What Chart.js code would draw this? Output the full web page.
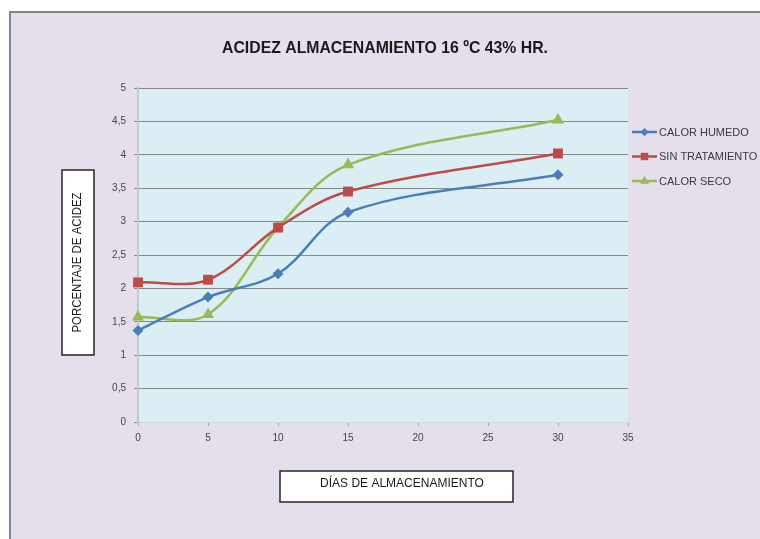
<!DOCTYPE html>
<html>
<head>
<meta charset="utf-8">
<title>Acidez almacenamiento 16 ºC 43% HR.</title>
<script src="https://cdn.jsdelivr.net/npm/chart.js@4/dist/chart.umd.min.js"></script>
<style>
  html, body { margin: 0; padding: 0; background: #ffffff; }
  #wrap { width: 760px; height: 539px; }
</style>
</head>
<body>
<div id="wrap"><canvas id="c" width="760" height="539"></canvas></div>
<script>
// Storage days and acidity percentage for each treatment
const days = [0, 5, 10, 15, 30];
const calorHumedo = [1.37, 1.87, 2.22, 3.14, 3.70];
const sinTratamiento = [2.09, 2.13, 2.91, 3.45, 4.02];
const calorSeco = [1.57, 1.61, 2.91, 3.85, 4.52];
const seriesNames = ['CALOR HUMEDO', 'SIN TRATAMIENTO', 'CALOR SECO'];
const xTicks = [0, 5, 10, 15, 20, 25, 30, 35];
const yTicks = [0, 0.5, 1, 1.5, 2, 2.5, 3, 3.5, 4, 4.5, 5];

const chartTitle = 'ACIDEZ ALMACENAMIENTO 16 ºC 43% HR.';
const yTitle = 'PORCENTAJE DE ACIDEZ';
const xTitle = 'DÍAS DE ALMACENAMIENTO';

const SANS = '"Liberation Sans", Arial, sans-serif';

function pts(values) {
  return days.map((d, i) => ({ x: d, y: values[i] }));
}

const styles = [
  { color: '#4A7EBB', pointStyle: 'rectRot', radius: 5.5 },
  { color: '#BE4B48', pointStyle: 'rect', radius: 7 },
  { color: '#98B954', pointStyle: 'triangle', radius: 7 }
];
const seriesValues = [calorHumedo, sinTratamiento, calorSeco];

const datasets = seriesValues.map((vals, i) => ({
  label: seriesNames[i],
  data: pts(vals),
  borderColor: styles[i].color,
  backgroundColor: styles[i].color,
  pointBackgroundColor: styles[i].color,
  pointBorderColor: styles[i].color,
  pointStyle: styles[i].pointStyle,
  pointRadius: styles[i].radius,
  pointBorderWidth: 0,
  borderWidth: 2.5,
  tension: 0.35,
  fill: false,
  clip: false
}));

function drawMarker(ctx, style, x, y, r, color) {
  ctx.save();
  ctx.fillStyle = color;
  ctx.beginPath();
  if (style === 'rect') {
    const s = r * Math.SQRT1_2;
    ctx.rect(x - s, y - s, 2 * s, 2 * s);
  } else if (style === 'rectRot') {
    ctx.moveTo(x, y - r); ctx.lineTo(x + r, y); ctx.lineTo(x, y + r); ctx.lineTo(x - r, y);
  } else {
    const w = r * Math.sqrt(3) / 2;
    ctx.moveTo(x, y - r); ctx.lineTo(x + w, y + r / 2); ctx.lineTo(x - w, y + r / 2);
  }
  ctx.closePath();
  ctx.fill();
  ctx.restore();
}

// draw text squeezed horizontally to a given width (condensed look)
function condensedText(ctx, text, cx, cy, width) {
  const w = ctx.measureText(text).width;
  const k = Math.min(1, width / w);
  ctx.save();
  ctx.translate(cx, cy);
  ctx.scale(k, 1);
  ctx.textAlign = 'center';
  ctx.fillText(text, 0, 0);
  ctx.restore();
}

const decorations = {
  id: 'decorations',
  beforeDraw(chart) {
    const ctx = chart.ctx;
    const a = chart.chartArea;
    ctx.save();
    // outer panel
    ctx.fillStyle = '#ffffff';
    ctx.fillRect(0, 0, chart.width, chart.height);
    ctx.fillStyle = '#E5DFEC';
    ctx.fillRect(10, 12, chart.width - 10, chart.height - 12);
    ctx.strokeStyle = '#858585';
    ctx.lineWidth = 2;
    ctx.beginPath();
    ctx.moveTo(10, chart.height);
    ctx.lineTo(10, 12);
    ctx.lineTo(chart.width, 12);
    ctx.stroke();
    // plot background
    ctx.fillStyle = '#DBEEF3';
    ctx.fillRect(a.left, a.top, a.right - a.left, a.bottom - a.top);
    ctx.restore();
  },
  afterDraw(chart) {
    const ctx = chart.ctx;
    ctx.save();
    // title
    ctx.fillStyle = '#1a1a1a';
    ctx.font = 'bold 17px ' + SANS;
    ctx.textBaseline = 'middle';
    condensedText(ctx, chartTitle, 385, 48.5, 326);

    // y axis title box
    ctx.textAlign = 'center';
    ctx.fillStyle = '#ffffff';
    ctx.fillRect(62, 170, 32, 185);
    ctx.strokeStyle = '#262626';
    ctx.lineWidth = 1.5;
    ctx.strokeRect(62, 170, 32, 185);
    ctx.save();
    ctx.translate(78, 262.5);
    ctx.rotate(-Math.PI / 2);
    ctx.fillStyle = '#1a1a1a';
    ctx.font = '12px ' + SANS;
    condensedText(ctx, yTitle, 0, 0, 140);
    ctx.restore();

    // x axis title box
    ctx.fillStyle = '#ffffff';
    ctx.fillRect(280, 471, 233, 31);
    ctx.strokeRect(280, 471, 233, 31);
    ctx.fillStyle = '#1a1a1a';
    ctx.font = '12px ' + SANS;
    condensedText(ctx, xTitle, 402, 484, 166);

    // legend
    ctx.textAlign = 'left';
    ctx.font = '11px ' + SANS;
    chart.data.datasets.forEach((ds, i) => {
      const y = 132 + i * 24.5;
      ctx.strokeStyle = ds.borderColor;
      ctx.lineWidth = 2.5;
      ctx.beginPath();
      ctx.moveTo(632, y);
      ctx.lineTo(657, y);
      ctx.stroke();
      drawMarker(ctx, ds.pointStyle, 644.5, y, ds.pointRadius * 0.75, ds.borderColor);
      ctx.fillStyle = '#3a3a3a';
      ctx.fillText(ds.label, 659, y + 0.5);
    });
    ctx.restore();
  }
};

new Chart(document.getElementById('c'), {
  type: 'line',
  data: { datasets },
  plugins: [decorations],
  options: {
    responsive: false,
    animation: false,
    devicePixelRatio: 1,
    layout: { autoPadding: false, padding: { top: 88, right: 132, bottom: 0, left: 0 } },
    plugins: { legend: { display: false }, tooltip: { enabled: false }, title: { display: false } },
    scales: {
      x: {
        type: 'linear',
        min: 0,
        max: 35,
        afterFit(scale) { scale.height = 117; },
        afterBuildTicks(scale) { scale.ticks = xTicks.map(v => ({ value: v })); },
        ticks: { color: '#444444', font: { family: SANS, size: 10 }, padding: 6 },
        grid: { drawOnChartArea: false, drawTicks: true, tickLength: 4, color: '#a6a6a6', lineWidth: 1 },
        border: { display: true, color: '#c9d9de', width: 1 }
      },
      y: {
        min: 0,
        max: 5,
        afterFit(scale) { scale.width = 138; },
        afterBuildTicks(scale) { scale.ticks = yTicks.map(v => ({ value: v })); },
        ticks: {
          color: '#444444',
          font: { family: SANS, size: 10 },
          padding: 8,
          callback: v => String(v).replace('.', ',')
        },
        grid: { color: '#878787', lineWidth: 1, tickLength: 4 },
        border: { display: true, color: '#c8c8c8', width: 2 }
      }
    }
  }
});
</script>
</body>
</html>
